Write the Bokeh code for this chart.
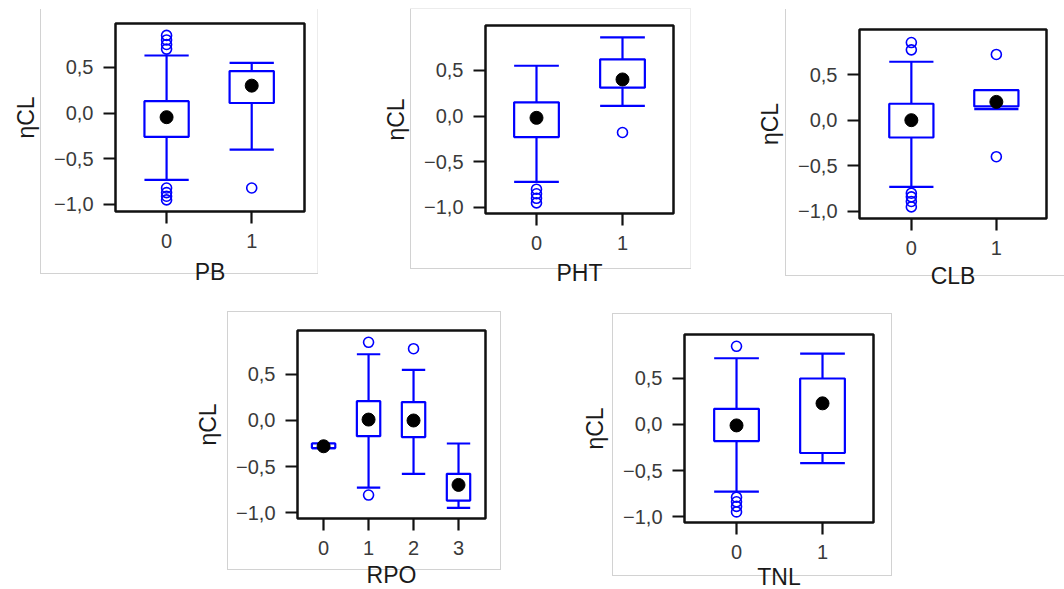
from bokeh.plotting import figure
from bokeh.models import FixedTicker, CustomJSTickFormatter, Range1d, Spacer
from bokeh.layouts import row, column
from bokeh.embed import file_html
from bokeh.resources import INLINE

# ---------------- data ----------------
YTICKS = [-1.0, -0.5, 0.0, 0.5]
Y_LABEL = "ηCL"

PB_cats = ["0", "1"]
PB_q1 = [-0.26, 0.11]
PB_q3 = [0.13, 0.46]
PB_lo = [-0.73, -0.40]
PB_hi = [0.63, 0.55]
PB_mean = [-0.045, 0.30]
PB_out_cat = ["0", "0", "0", "0", "0", "0", "0", "0", "1"]
PB_out_val = [0.85, 0.80, 0.75, 0.70, -0.82, -0.87, -0.91, -0.95, -0.82]

PHT_cats = ["0", "1"]
PHT_q1 = [-0.23, 0.31]
PHT_q3 = [0.15, 0.62]
PHT_lo = [-0.72, 0.11]
PHT_hi = [0.55, 0.86]
PHT_mean = [-0.02, 0.40]
PHT_out_cat = ["0", "0", "0", "0", "1"]
PHT_out_val = [-0.80, -0.85, -0.90, -0.95, -0.18]

CLB_cats = ["0", "1"]
CLB_q1 = [-0.19, 0.15]
CLB_q3 = [0.18, 0.33]
CLB_lo = [-0.73, 0.12]
CLB_hi = [0.64, 0.33]
CLB_mean = [0.0, 0.20]
CLB_out_cat = ["0", "0", "0", "0", "0", "0", "1", "1"]
CLB_out_val = [0.85, 0.77, -0.80, -0.84, -0.89, -0.95, 0.72, -0.40]

RPO_cats = ["0", "1", "2", "3"]
RPO_q1 = [-0.30, -0.17, -0.18, -0.87]
RPO_q3 = [-0.25, 0.21, 0.20, -0.58]
RPO_lo = [-0.30, -0.73, -0.58, -0.95]
RPO_hi = [-0.25, 0.72, 0.55, -0.25]
RPO_mean = [-0.28, 0.01, 0.0, -0.70]
RPO_out_cat = ["1", "1", "2"]
RPO_out_val = [0.85, -0.81, 0.78]

TNL_cats = ["0", "1"]
TNL_q1 = [-0.18, -0.31]
TNL_q3 = [0.17, 0.50]
TNL_lo = [-0.73, -0.42]
TNL_hi = [0.72, 0.77]
TNL_mean = [-0.01, 0.23]
TNL_out_cat = ["0", "0", "0", "0", "0"]
TNL_out_val = [0.85, -0.79, -0.84, -0.89, -0.95]

BLUE = "#0000FF"
FONT = "Liberation Sans"
BOXW = 0.52
LW = 2.2
GRAY = "#d2d2d2"
FAINT = "#ececec"


def frame_css(gx0, gy0, gx1, gy1, top_col, right_col):
    w, h = gx1 - gx0, gy1 - gy0
    cols = [top_col, GRAY, GRAY, right_col]
    imgs = [f"linear-gradient({c},{c})" for c in cols]
    return {
        "background-color": "white",
        "background-image": ", ".join(imgs),
        "background-size": f"{w + 1}px 1px, {w + 1}px 1px, 1px {h}px, 1px {h}px",
        "background-position": f"{gx0}px {gy0}px, {gx0}px {gy1}px, {gx0}px {gy0}px, {gx1}px {gy0}px",
        "background-repeat": "no-repeat",
    }


def panel(cats, q1, q3, lo, hi, mean, out_cat, out_val, xlabel,
          fw, fh, bl, br, bt, bb, xr, yr, gray, xstand=5):
    p = figure(frame_width=fw, frame_height=fh,
               min_border_left=bl, min_border_right=br,
               min_border_top=bt, min_border_bottom=bb,
               x_range=Range1d(*xr), y_range=Range1d(*yr),
               output_backend="svg", toolbar_location=None, title=None,
               frame_align=False, styles=frame_css(*gray))
    p.grid.visible = False
    p.outline_line_color = "#111111"
    p.outline_line_width = 2.5
    p.background_fill_color = "white"
    p.border_fill_color = None

    xs = list(range(len(cats)))
    pos = {c: i for i, c in enumerate(cats)}
    left = [x - BOXW / 2 for x in xs]
    right = [x + BOXW / 2 for x in xs]

    # stems
    p.segment(x0=xs, y0=q3, x1=xs, y1=hi, line_color=BLUE, line_width=LW)
    p.segment(x0=xs, y0=q1, x1=xs, y1=lo, line_color=BLUE, line_width=LW)
    # caps
    p.segment(x0=left, y0=hi, x1=right, y1=hi, line_color=BLUE, line_width=LW)
    p.segment(x0=left, y0=lo, x1=right, y1=lo, line_color=BLUE, line_width=LW)
    # boxes
    p.quad(left=left, right=right, bottom=q1, top=q3, fill_color="white",
           line_color=BLUE, line_width=LW)
    # outliers
    p.scatter(x=[pos[c] for c in out_cat], y=out_val, marker="circle", size=10,
              fill_color=None, line_color=BLUE, line_width=1.6)
    # means
    p.scatter(x=xs, y=mean, marker="circle", size=13, fill_color="black",
              line_color="black")

    for ax in (p.xaxis[0], p.yaxis[0]):
        ax.axis_line_color = None
        ax.major_tick_out = 12
        ax.major_tick_in = 0
        ax.major_tick_line_width = 2.2
        ax.major_tick_line_color = "#111111"
        ax.minor_tick_line_color = None
        ax.major_label_text_font = FONT
        ax.major_label_text_font_size = "20px"
        ax.major_label_text_color = "#3a3a3a"
        ax.axis_label_text_font = FONT
        ax.axis_label_text_font_size = "23px"
        ax.axis_label_text_font_style = "normal"
        ax.axis_label_text_color = "#1a1a1a"
        ax.major_label_standoff = 10

    p.yaxis[0].ticker = FixedTicker(ticks=YTICKS)
    p.yaxis[0].formatter = CustomJSTickFormatter(
        code="return (tick < 0 ? '\\u2212' : '') + Math.abs(tick).toFixed(1).replace('.', ',');")
    p.yaxis[0].axis_label = Y_LABEL
    p.yaxis[0].axis_label_standoff = 12

    p.xaxis[0].ticker = FixedTicker(ticks=xs)
    p.xaxis[0].major_label_overrides = {i: c for i, c in enumerate(cats)}
    p.xaxis[0].axis_label = xlabel
    p.xaxis[0].axis_label_standoff = xstand
    return p


p1 = panel(PB_cats, PB_q1, PB_q3, PB_lo, PB_hi, PB_mean, PB_out_cat, PB_out_val, "PB",
           189, 188, 115, 56, 23, 79, (-0.6, 1.62), (-1.077, 0.98),
           (40, 8, 317, 273, "white", FAINT), xstand=8)
p2 = panel(PHT_cats, PHT_q1, PHT_q3, PHT_lo, PHT_hi, PHT_mean, PHT_out_cat, PHT_out_val, "PHT",
           188, 188, 125, 57, 25, 77, (-0.593, 1.593), (-1.066, 0.99),
           (50, 8, 330, 268, FAINT, FAINT), xstand=7)
p3 = panel(CLB_cats, CLB_q1, CLB_q3, CLB_lo, CLB_hi, CLB_mean, CLB_out_cat, CLB_out_val, "CLB",
           187, 189, 129, 18, 29, 72, (-0.61, 1.59), (-1.077, 0.993),
           (55, 8, 340, 275, "white", "white"), xstand=5)
p4 = panel(RPO_cats, RPO_q1, RPO_q3, RPO_lo, RPO_hi, RPO_mean, RPO_out_cat, RPO_out_val, "RPO",
           188, 188, 117, 75, 39, 72, (-0.58, 3.6), (-1.065, 0.978),
           (47, 20, 320, 278, GRAY, GRAY), xstand=4)
p5 = panel(TNL_cats, TNL_q1, TNL_q3, TNL_lo, TNL_hi, TNL_mean, TNL_out_cat, TNL_out_val, "TNL",
           189, 188, 124, 27, 43, 68, (-0.605, 1.593), (-1.065, 0.978),
           (52, 22, 331, 284, GRAY, GRAY), xstand=2)

layout = column(row(p1, p2, p3, spacing=0),
                row(Spacer(width=180, height=299), p4, p5, spacing=0),
                spacing=0)

open("out.html", "w").write(file_html(layout, INLINE))
